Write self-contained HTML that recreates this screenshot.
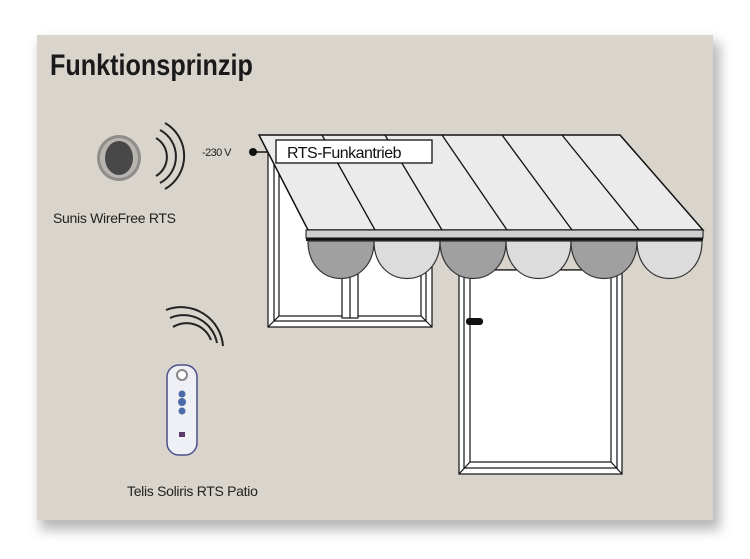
<!DOCTYPE html>
<html><head><meta charset="utf-8"><style>
html,body{margin:0;padding:0;background:#fff;width:750px;height:559px;overflow:hidden}
</style></head><body>
<svg width="750" height="559" viewBox="0 0 750 559" xmlns="http://www.w3.org/2000/svg">
<defs>
<filter id="sh" x="-10%" y="-10%" width="120%" height="125%"><feGaussianBlur stdDeviation="6"/></filter>
</defs>
<rect x="40" y="42" width="680" height="488" fill="#888" opacity="0.6" filter="url(#sh)"/>
<rect x="37" y="35" width="676" height="485" fill="#d9d4cc"/>
<text x="0" y="75" font-family="Liberation Sans, sans-serif" font-weight="bold" font-size="30" fill="#1a1a1a" transform="translate(50 0) scale(0.84 1)">Funktionsprinzip</text>

<!-- sensor -->
<ellipse cx="119" cy="158" rx="22" ry="23" fill="#8f8c89"/>
<ellipse cx="119" cy="158" rx="19" ry="20" fill="#b8b4b0"/>
<ellipse cx="119" cy="158" rx="14" ry="17" fill="#484848"/>
<g fill="none" stroke="#222" stroke-width="2">
<path d="M156 138 A22 22 0 0 1 156 176"/>
<path d="M160 130 A30 30 0 0 1 160 183"/>
<path d="M165 123 A38 38 0 0 1 165 189"/>
</g>
<text x="53" y="223" font-family="Liberation Sans, sans-serif" font-size="14" fill="#222" letter-spacing="-0.3">Sunis WireFree RTS</text>

<text x="202" y="156" font-family="Liberation Sans, sans-serif" font-size="11" fill="#222" letter-spacing="-0.6">-230 V</text>
<circle cx="253" cy="152" r="4" fill="#111"/>
<line x1="253" y1="152" x2="276" y2="152" stroke="#111" stroke-width="1.5"/>

<!-- window -->
<g stroke="#111" stroke-width="1.2" fill="#fff">
<rect x="268" y="140" width="164" height="187"/>
<rect x="274" y="146" width="152" height="175"/>
<rect x="279" y="150" width="142" height="166"/>
<rect x="342" y="270" width="16" height="48"/>
<line x1="350" y1="270" x2="350" y2="318"/>
<line x1="268" y1="327" x2="279" y2="316"/>
<line x1="432" y1="327" x2="421" y2="316"/>
</g>
<!-- door -->
<g stroke="#111" stroke-width="1.2" fill="#fff">
<rect x="459" y="270" width="163" height="204"/>
<rect x="464" y="270" width="153" height="198"/>
<rect x="470" y="270" width="141" height="192"/>
<line x1="459" y1="474" x2="470" y2="462"/>
<line x1="622" y1="474" x2="611" y2="462"/>
</g>
<rect x="466" y="318" width="17" height="7" rx="3" fill="#111"/>

<!-- awning roof -->
<polygon points="259,135 620,135 703,230 308,230" fill="#ebebeb" stroke="#111" stroke-width="1.5"/>
<g stroke="#111" stroke-width="1.3">
<line x1="322" y1="135" x2="375" y2="230"/>
<line x1="385" y1="135" x2="442" y2="230"/>
<line x1="442" y1="135" x2="507" y2="230"/>
<line x1="502" y1="135" x2="572" y2="230"/>
<line x1="562" y1="135" x2="639" y2="230"/>
</g>
<rect x="276" y="140" width="156" height="23" fill="#fff" stroke="#111" stroke-width="1.3"/>
<text x="287" y="158" font-family="Liberation Sans, sans-serif" font-size="16" fill="#111" letter-spacing="-0.5">RTS-Funkantrieb</text>
<rect x="306" y="230" width="397" height="8" fill="#cfcfcf" stroke="#111" stroke-width="1"/>
<rect x="306" y="238" width="397" height="3" fill="#111"/>
<g stroke="#333" stroke-width="1.2">
<path d="M308 241 C308 291 374 291 374 241 Z" fill="#a0a0a0"/>
<path d="M374 241 C374 291 440 291 440 241 Z" fill="#dcdcdc"/>
<path d="M440 241 C440 291 506 291 506 241 Z" fill="#a0a0a0"/>
<path d="M506 241 C506 291 571 291 571 241 Z" fill="#dcdcdc"/>
<path d="M571 241 C571 291 637 291 637 241 Z" fill="#a0a0a0"/>
<path d="M637 241 C637 291 702 291 702 241 Z" fill="#dcdcdc"/>
</g>

<!-- remote -->
<g fill="none" stroke="#222" stroke-width="2">
<path d="M173 327 A26 26 0 0 1 211 340"/>
<path d="M170 318 A34 34 0 0 1 217 343"/>
<path d="M166 310 A42 42 0 0 1 223 346"/>
</g>
<rect x="167" y="365" width="30" height="90" rx="12" fill="#eef0f6" stroke="#4a4f8a" stroke-width="1.5"/>
<circle cx="182" cy="375" r="5" fill="#fff" stroke="#888" stroke-width="2"/>
<circle cx="182" cy="394" r="3.5" fill="#4a6aa8"/>
<circle cx="182" cy="402" r="4" fill="#4a6aa8"/>
<circle cx="182" cy="411" r="3.5" fill="#4a6aa8"/>
<rect x="179" y="432" width="6" height="5" fill="#5a3a6a"/>
<text x="127" y="496" font-family="Liberation Sans, sans-serif" font-size="14" fill="#222" letter-spacing="-0.3">Telis Soliris RTS Patio</text>
</svg>
</body></html>
